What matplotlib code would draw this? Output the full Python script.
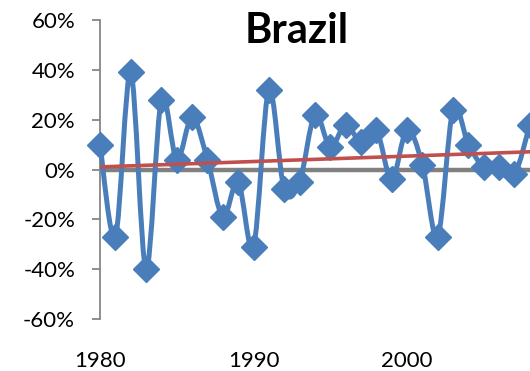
import numpy as np
import matplotlib
matplotlib.use("Agg")
import matplotlib.pyplot as plt
from matplotlib.path import Path
from matplotlib.patches import PathPatch

# ---- data (percent) ----
years = list(range(1980, 2009))
growth = [10, -27, 39, -40, 28, 4, 21, 4, -19, -5,
          -31, 32, -8, -5, 22, 9, 18, 11, 16, -4,
          16, 2, -27, 24, 10, 1, 1, -2, 18]
title = "Brazil"
y_ticks = [-60, -40, -20, 0, 20, 40, 60]
x_ticks = [1980, 1990, 2000]

BLUE = "#4A7EBB"
RED = "#C0504D"
GRAY = "#808080"
AXGRAY = "#868686"

plt.rcParams['font.family'] = ['Lato', 'DejaVu Sans']

W, H = 530, 371
fig = plt.figure(figsize=(W / 100, H / 100), dpi=100)
px_per_year = 15.35
ax_w = 30 * px_per_year
ax = fig.add_axes([100 / W, (H - 319) / H, ax_w / W, 299 / H])
ax.set_xlim(1980, 2010)
ax.set_ylim(-60, 60)

# zero (category) axis line
ax.axhline(0, color=GRAY, lw=3.2, zorder=2)

# smoothed line (Catmull-Rom style Bezier) drawn with library path
x = np.array(years, dtype=float)
y = np.array(growth, dtype=float)
verts = [(x[0], y[0])]
codes = [Path.MOVETO]
n = len(x)
for i in range(n - 1):
    p0 = np.array([x[max(i - 1, 0)], y[max(i - 1, 0)]])
    p1 = np.array([x[i], y[i]])
    p2 = np.array([x[i + 1], y[i + 1]])
    p3 = np.array([x[min(i + 2, n - 1)], y[min(i + 2, n - 1)]])
    c1 = p1 + (p2 - p0) / 6.0
    c2 = p2 - (p3 - p1) / 6.0
    verts += [tuple(c1), tuple(c2), tuple(p2)]
    codes += [Path.CURVE4] * 3
patch = PathPatch(Path(verts, codes), facecolor="none", edgecolor=BLUE,
                  lw=3.6, zorder=3, capstyle="round", joinstyle="round")
patch.set_clip_on(False)
ax.add_patch(patch)
ax.plot(years, growth, linestyle="none", marker="D", ms=13,
        color=BLUE, mec=BLUE, zorder=4, clip_on=False)

# linear trend line
coef = np.polyfit(x, y, 1)
tx = np.array([1980, 2010])
ax.plot(tx, np.polyval(coef, tx), color=RED, lw=2.6, zorder=5)

# axes styling
for s in ["top", "right", "bottom"]:
    ax.spines[s].set_visible(False)
ax.spines["left"].set_color(AXGRAY)
ax.spines["left"].set_linewidth(1.3)
ax.set_yticks(y_ticks)
ax.set_yticklabels([f"{v}%" for v in y_ticks])
ax.tick_params(axis="y", direction="out", length=6, width=1.3, color=AXGRAY,
               pad=12, labelsize=16)
ax.set_xticks(x_ticks)
ax.set_xticklabels([str(v) for v in x_ticks])
ax.tick_params(axis="x", length=0, pad=23, labelsize=16)

fig.text(297 / W, (H - 43) / H, title, ha="center", va="baseline",
         fontsize=30, fontweight="bold")

fig.savefig("out.png", dpi=100)
